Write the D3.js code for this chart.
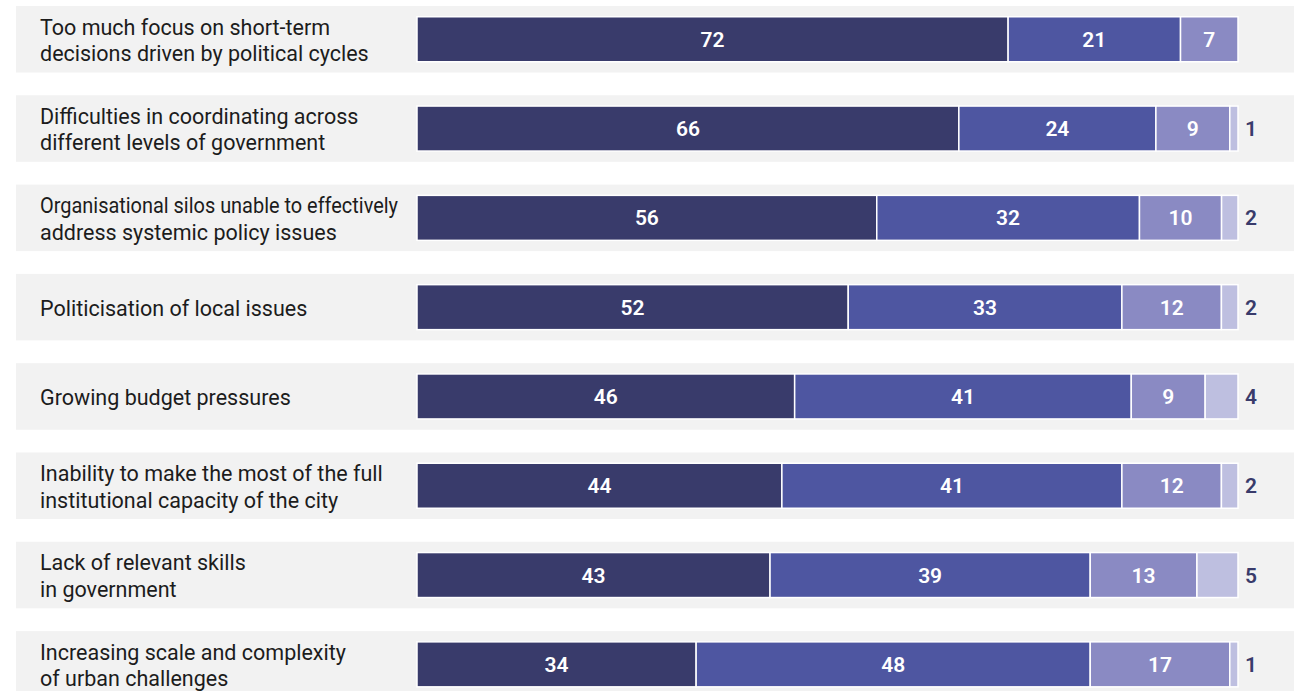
<!DOCTYPE html>
<html>
<head>
<meta charset="utf-8">
<script src="https://cdn.jsdelivr.net/npm/d3@7"></script>
<style>
  html, body { margin: 0; padding: 0; background: #ffffff; }
  svg { display: block; }
</style>
</head>
<body>
<svg id="chart" width="1294" height="691"></svg>
<script>
// Barriers to long-term policy making, share of responses per answer level (%)
const categories = [
  ["Too much focus on short-term", "decisions driven by political cycles"],
  ["Difficulties in coordinating across", "different levels of government"],
  ["Organisational silos unable to effectively", "address systemic policy issues"],
  ["Politicisation of local issues"],
  ["Growing budget pressures"],
  ["Inability to make the most of the full", "institutional capacity of the city"],
  ["Lack of relevant skills", "in government"],
  ["Increasing scale and complexity", "of urban challenges"]
];
const strong   = [72, 66, 56, 52, 46, 44, 43, 34];
const moderate = [21, 24, 32, 33, 41, 41, 39, 48];
const slight   = [7, 9, 10, 12, 9, 12, 13, 17];
const none     = [0, 1, 2, 2, 4, 2, 5, 1];

const seriesKeys = ["strong", "moderate", "slight", "none"];
const colors = ["#393b6b", "#4e56a1", "#8a8ac3", "#bebfe0"];

const rows = categories.map((c, i) => ({
  id: i,
  lines: c,
  strong: strong[i],
  moderate: moderate[i],
  slight: slight[i],
  none: none[i]
}));

const svg = d3.select("#chart");
const W = 1294;

const y = d3.scaleBand()
  .domain(rows.map(d => d.id))
  .range([-5.4, -5.4 + 8 * 89.3])
  .paddingInner(0.255)
  .paddingOuter(0.1275);

const x = d3.scaleLinear().domain([0, 1]).range([417, 1238]);

const color = d3.scaleOrdinal().domain(seriesKeys).range(colors);

const stacked = d3.stack()
  .keys(seriesKeys)
  .offset(d3.stackOffsetExpand)(rows);

const barH = 45;
const barOffset = (y.bandwidth() - barH) / 2;

// grey row bands
svg.append("g").selectAll("rect")
  .data(rows)
  .join("rect")
  .attr("x", 16)
  .attr("y", d => y(d.id))
  .attr("width", W - 16)
  .attr("height", y.bandwidth())
  .attr("fill", "#f2f2f2");

// category labels, squeezed to fit the label column when a line is too long
const lineH = 26.5;
const labelX = 40;
const labelMaxW = 358;
svg.append("g").selectAll("text")
  .data(rows)
  .join("text")
  .attr("x", labelX)
  .attr("font-family", "Roboto, sans-serif")
  .attr("font-size", 21.5)
  .attr("fill", "#1c1c1c")
  .each(function (d) {
    const cy = y(d.id) + y.bandwidth() / 2;
    const n = d.lines.length;
    d3.select(this).selectAll("tspan")
      .data(d.lines)
      .join("tspan")
      .attr("x", labelX)
      .attr("y", (l, i) => cy + 8.5 + (i - (n - 1) / 2) * lineH)
      .text(l => l)
      .each(function () {
        if (this.getComputedTextLength() > labelMaxW) {
          d3.select(this)
            .attr("textLength", labelMaxW)
            .attr("lengthAdjust", "spacingAndGlyphs");
        }
      });
  });

// stacked segments
const layers = svg.append("g").selectAll("g")
  .data(stacked)
  .join("g")
  .attr("fill", s => color(s.key));

layers.selectAll("rect")
  .data(s => s.map(p => ({ key: s.key, p })))
  .join("rect")
  .filter(d => d.p[1] - d.p[0] > 0)
  .attr("x", d => x(d.p[0]))
  .attr("y", d => y(d.p.data.id) + barOffset)
  .attr("width", d => x(d.p[1]) - x(d.p[0]))
  .attr("height", barH)
  .attr("stroke", "#ffffff")
  .attr("stroke-width", 1.5);

// values inside the first three segments
const inside = svg.append("g")
  .attr("font-family", "Roboto, sans-serif")
  .attr("font-size", 21)
  .attr("font-weight", 600)
  .attr("fill", "#ffffff")
  .attr("text-anchor", "middle");

stacked.slice(0, 3).forEach(s => {
  inside.selectAll(null)
    .data(s.filter(p => p.data[s.key] > 0))
    .join("text")
    .attr("x", p => (x(p[0]) + x(p[1])) / 2)
    .attr("y", p => y(p.data.id) + y.bandwidth() / 2 + 7.5)
    .text(p => p.data[s.key]);
});

// value of the last segment, to the right of the bar
svg.append("g")
  .attr("font-family", "Roboto, sans-serif")
  .attr("font-size", 21)
  .attr("font-weight", 600)
  .attr("fill", "#393b6b")
  .selectAll("text")
  .data(rows.filter(d => d.none > 0))
  .join("text")
  .attr("x", x(1) + 7)
  .attr("y", d => y(d.id) + y.bandwidth() / 2 + 7.5)
  .text(d => d.none);
</script>
</body>
</html>
